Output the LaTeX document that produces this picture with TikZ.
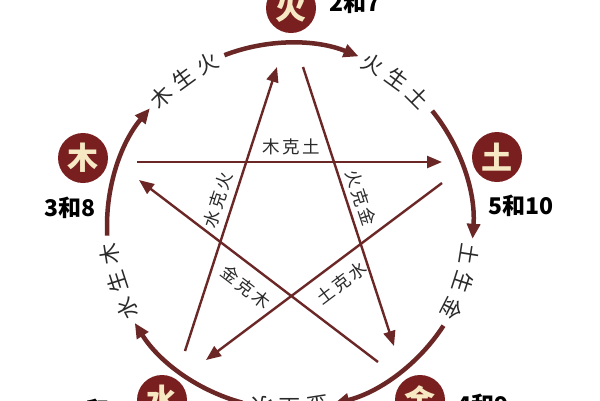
\documentclass[tikz,border=0pt]{standalone}
\usepackage{fontspec}
\newfontfamily\cjk{Noto Sans CJK SC}
\usetikzlibrary{arrows.meta}
\definecolor{elemred}{HTML}{7A1F1F}
\definecolor{ringc}{HTML}{6B2626}
\definecolor{cream}{HTML}{F7E8C4}
\definecolor{txtc}{HTML}{2A2A2A}
\begin{document}
\begin{tikzpicture}[x=1pt,y=1pt,
  ring/.style={line width=4.5pt, color=ringc, -{Triangle[length=15pt,width=13pt]}},
  starline/.style={line width=2.4pt, color=ringc, -{Triangle[length=15pt,width=12pt]}},
  elem/.style={circle, fill=elemred, minimum size=50pt, inner sep=0pt, text=cream, font=\cjk\bfseries\fontsize{31}{31}\selectfont},
  num/.style={font=\cjk\bfseries\fontsize{23}{23}\selectfont, text=black, inner sep=0pt},
  arclab/.style={font=\cjk\fontsize{21.5}{21.5}\selectfont, text=txtc, inner sep=0pt},
  starlab/.style={font=\cjk\fontsize{17.5}{17.5}\selectfont, text=txtc, inner sep=0pt},
]
\useasboundingbox (0,0) rectangle (600,-400);
\clip (0,0) rectangle (600,-400);
\fill[white] (0,0) rectangle (600,-400);
\coordinate (C) at (290,-226);

% ring arcs
\foreach \t [count=\i, evaluate=\t as \sa using \t+21, evaluate=\t as \ea using \t-22] in {162,90,18,-54,-126} {
  \coordinate (arcstart\i) at ([shift={(C)}]\sa:183);
  \draw[ring] (arcstart\i) arc[start angle=\sa, end angle=\ea, radius=183];
}

% arc labels
\foreach \p/\a/\b/\c [count=\i, evaluate=\p as \pa using \p+9, evaluate=\p as \pc using \p-9] in {126/木/生/火, 54/火/生/土, -18/土/生/金, -90/金/生/水, -162/水/生/木} {
  \node[arclab, rotate=\pa-90] (al\i-1) at ([shift={(C)}]\pa:182) {\a};
  \node[arclab, rotate=\p-90] (al\i-2) at ([shift={(C)}]\p:182) {\b};
  \node[arclab, rotate=\pc-90] (al\i-3) at ([shift={(C)}]\pc:182) {\c};
}

% star lines
\coordinate (mk0) at (137,-162); \coordinate (mk1) at (442,-162);
\coordinate (sh0) at (185,-351); \coordinate (sh1) at (277,-67);
\coordinate (hj0) at (303,-67);  \coordinate (hj1) at (394,-346);
\coordinate (jm0) at (378,-362); \coordinate (jm1) at (139,-180);
\coordinate (ts0) at (442,-183); \coordinate (ts1) at (206,-360);
\draw[starline] (mk0) -- (mk1);
\draw[starline] (sh0) -- (sh1);
\draw[starline] (hj0) -- (hj1);
\draw[starline] (jm0) -- (jm1);
\draw[starline] (ts0) -- (ts1);

% star labels
\node[starlab] (lmk) at (291,-147) {木\hspace{2.5pt}克\hspace{2.5pt}土};
\node[starlab, rotate=-72] (lhj) at (361,-198) {火\hspace{2.5pt}克\hspace{2.5pt}金};
\node[starlab, rotate=72] (lsh) at (218,-200) {水\hspace{2.5pt}克\hspace{2.5pt}火};
\node[starlab, rotate=-37.3] (ljm) at (246,-287) {金\hspace{2.5pt}克\hspace{2.5pt}木};
\node[starlab, rotate=36.9] (lts) at (342,-283) {土\hspace{2.5pt}克\hspace{2.5pt}水};

% elements
\node[elem] (huo) at (291,-8) {火};
\node[elem] (mu) at (83,-158) {木};
\node[elem] (tu) at (497,-157) {土};
\node[elem] (shui) at (162,-400) {水};
\node[elem] (jin) at (420,-400) {金};

% numbers
\node[num] (n1) at (355,-3) {2和7};
\node[num] (n2) at (70,-208) {3和8};
\node[num] (n3) at (521,-206) {5和10};
\node[num] (n4) at (483,-405) {4和9};
\node[num] (n5) at (98,-410) {1和6};
\end{tikzpicture}
\end{document}
